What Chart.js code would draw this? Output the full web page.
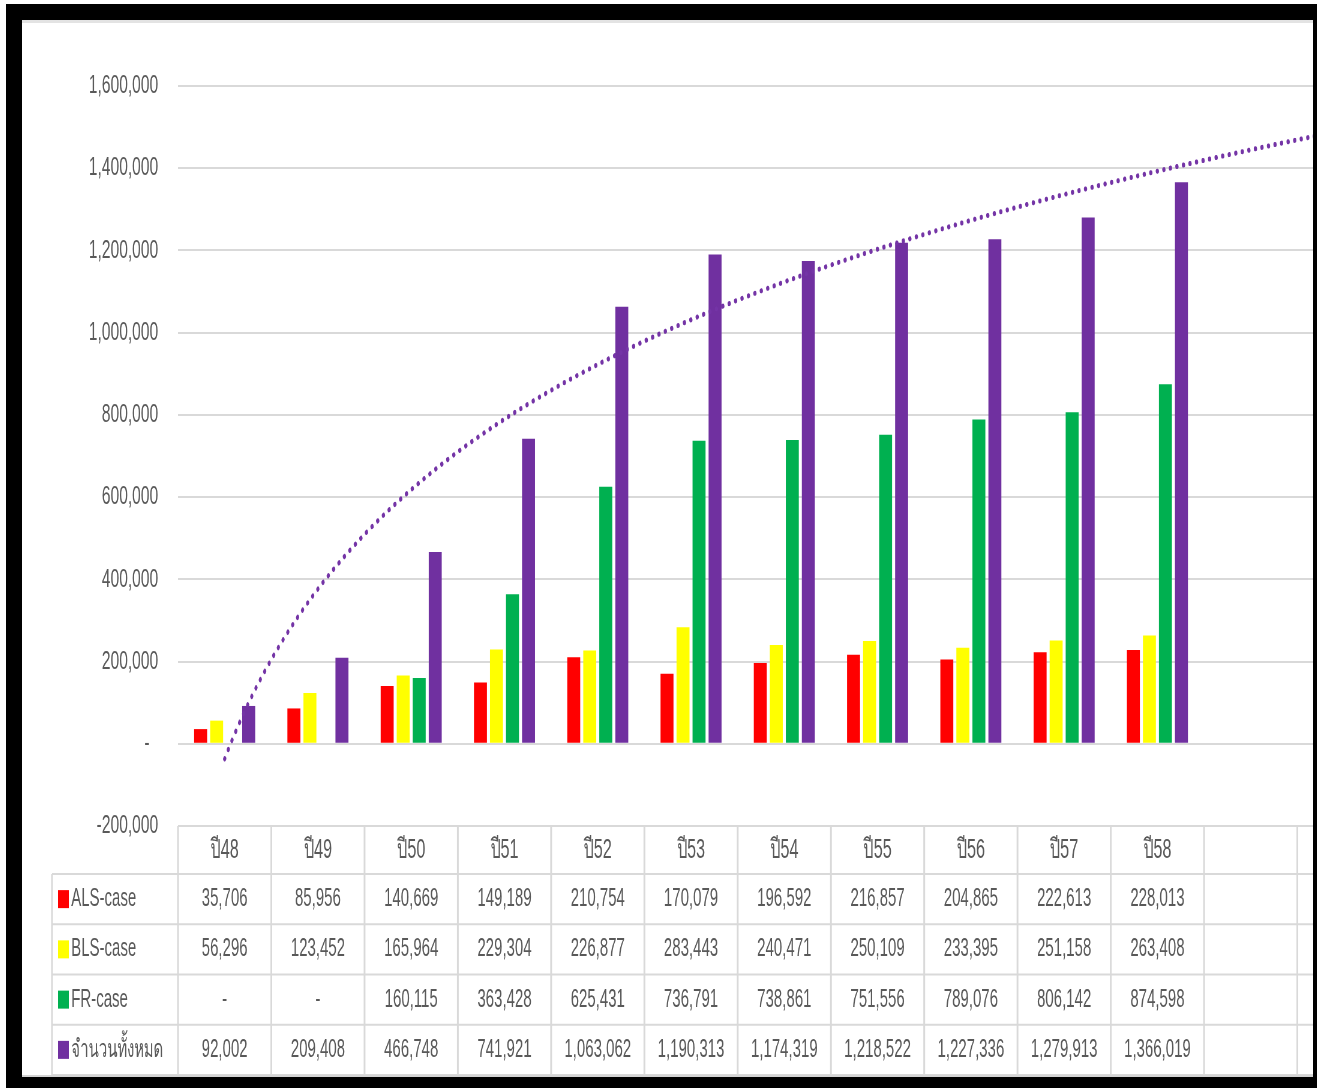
<!DOCTYPE html>
<html>
<head>
<meta charset="utf-8">
<title>EMS cases</title>
<script src="https://cdn.jsdelivr.net/npm/chart.js@4.4.0/dist/chart.umd.min.js"></script>
<style>
  body { margin: 0; background: #fff; }
  #frame { position: absolute; left: 6px; top: 4px; width: 1311px; height: 1084px; background: #000; }
  #sheet { position: absolute; left: 16px; top: 16px; width: 1291px; height: 1057px; background: #fff; overflow: hidden; }
  #topline { position: absolute; left: 0; top: 0; width: 100%; height: 3px; background: #e3e3e3; z-index: 2; }
  #bottomline { position: absolute; left: 0; bottom: 0; width: 100%; height: 2px; background: #d4d4d4; z-index: 2; }
  /* the original picture is squeezed sideways, so the chart is drawn wide and squeezed the same way */
  #chart { position: absolute; left: 0; top: 0; transform: scaleX(0.6); transform-origin: 0 0; }
</style>
</head>
<body>
<div id="frame">
  <div id="sheet">
    <div id="topline"></div>
    <canvas id="chart" width="2281" height="1057"></canvas>
    <div id="bottomline"></div>
  </div>
</div>

<script>
// categories (the last two columns of the sheet are empty)
var categories = ['ปี48', 'ปี49', 'ปี50', 'ปี51', 'ปี52', 'ปี53', 'ปี54', 'ปี55', 'ปี56', 'ปี57', 'ปี58', '', ''];

var series_names = ['ALS-case', 'BLS-case', 'FR-case', 'จำนวนทั้งหมด'];

var als_case = [35706, 85956, 140669, 149189, 210754, 170079, 196592, 216857, 204865, 222613, 228013];
var bls_case = [56296, 123452, 165964, 229304, 226877, 283443, 240471, 250109, 233395, 251158, 263408];
var fr_case = [null, null, 160115, 363428, 625431, 736791, 738861, 751556, 789076, 806142, 874598];
var total_cases = [92002, 209408, 466748, 741921, 1063062, 1190313, 1174319, 1218522, 1227336, 1279913, 1366019];

// y axis ticks
var y_min = -200000;
var y_max = 1600000;
var y_step = 200000;

var series_colors = ['#FF0000', '#FFFF00', '#00B050', '#7030A0'];
var text_color = '#595959';
var line_color = '#d9d9d9';
var font_family = '"Liberation Sans", "Noto Sans", sans-serif';

function formatNumber(value) {
  if (value === null || value === undefined) {
    return '-';
  }
  return value.toLocaleString('en-US');
}

// Excel style logarithmic trendline of the total, drawn dotted
var trendlinePlugin = {
  id: 'trendline',
  afterDatasetsDraw: function(chart) {
    var xs = chart.scales.x;
    var ys = chart.scales.y;
    var n = total_cases.length;
    var sumL = 0, sumY = 0, sumLL = 0, sumLY = 0;
    for (var i = 0; i < n; i++) {
      var l = Math.log(i + 1);
      sumL += l;
      sumY += total_cases[i];
      sumLL += l * l;
      sumLY += l * total_cases[i];
    }
    var a = (n * sumLY - sumL * sumY) / (n * sumLL - sumL * sumL);
    var b = (sumY - a * sumL) / n;

    var ctx = chart.ctx;
    ctx.save();
    ctx.strokeStyle = '#7434a6';
    ctx.lineWidth = 5;
    ctx.lineCap = 'round';
    ctx.setLineDash([0.5, 10.5]);
    ctx.beginPath();
    for (var t = 1; t <= categories.length; t += 0.02) {
      var px = xs.getPixelForValue(t - 1);
      var py = ys.getPixelForValue(a * Math.log(t) + b);
      if (t == 1) {
        ctx.moveTo(px, py);
      } else {
        ctx.lineTo(px, py);
      }
    }
    ctx.stroke();
    ctx.restore();
  }
};

// data table under the plot, columns taken from the x scale
var dataTablePlugin = {
  id: 'dataTable',
  afterDraw: function(chart) {
    var ctx = chart.ctx;
    var area = chart.chartArea;
    var xs = chart.scales.x;
    var colW = (area.right - area.left) / categories.length;
    var top = area.bottom;
    var headerH = 48;
    var rowH = 50.25;
    var legendLeft = 50;
    var right = chart.width;
    var rows = [als_case, bls_case, fr_case, total_cases];

    ctx.save();
    ctx.strokeStyle = line_color;
    ctx.lineWidth = 2;

    // horizontal lines
    ctx.beginPath();
    ctx.moveTo(area.left, top);
    ctx.lineTo(right, top);
    for (var r = 0; r <= rows.length; r++) {
      var ly = top + headerH + r * rowH;
      ctx.moveTo(legendLeft, ly);
      ctx.lineTo(right, ly);
    }
    ctx.stroke();

    // vertical lines
    ctx.lineWidth = 3;
    ctx.beginPath();
    var bottom = top + headerH + rows.length * rowH;
    for (var c = 0; c <= categories.length; c++) {
      var lx = area.left + c * colW;
      ctx.moveTo(lx, top);
      ctx.lineTo(lx, bottom);
    }
    ctx.moveTo(legendLeft, top + headerH);
    ctx.lineTo(legendLeft, bottom);
    ctx.stroke();

    ctx.fillStyle = text_color;
    ctx.textBaseline = 'middle';
    ctx.textAlign = 'center';

    // header row
    ctx.font = '27px ' + font_family;
    for (var h = 0; h < categories.length; h++) {
      ctx.fillText(categories[h], xs.getPixelForValue(h), top + headerH / 2 + 1);
    }

    // series rows
    ctx.font = '25px ' + font_family;
    for (var s = 0; s < rows.length; s++) {
      var cy = top + headerH + s * rowH + rowH / 2;
      ctx.fillStyle = series_colors[s];
      ctx.fillRect(legendLeft + 10, cy - 9, 18, 18);
      ctx.fillStyle = text_color;
      ctx.textAlign = 'left';
      ctx.fillText(series_names[s], legendLeft + 32, cy);
      ctx.textAlign = 'center';
      for (var k = 0; k < rows[s].length; k++) {
        ctx.fillText(formatNumber(rows[s][k]), xs.getPixelForValue(k), cy);
      }
    }
    ctx.restore();
  }
};

var ctx = document.getElementById('chart');
var cases_chart = new Chart(ctx, {
  type: 'bar',
  data: {
    labels: categories,
    datasets: [
      { label: series_names[0], data: als_case, backgroundColor: series_colors[0] },
      { label: series_names[1], data: bls_case, backgroundColor: series_colors[1] },
      { label: series_names[2], data: fr_case, backgroundColor: series_colors[2] },
      { label: series_names[3], data: total_cases, backgroundColor: series_colors[3] }
    ]
  },
  options: {
    responsive: false,
    animation: false,
    layout: {
      padding: { top: 66, bottom: 251, left: 0, right: 0 }
    },
    datasets: {
      bar: { barPercentage: 0.81, categoryPercentage: 0.687 }
    },
    plugins: {
      legend: { display: false },
      tooltip: { enabled: false }
    },
    scales: {
      x: {
        display: false
      },
      y: {
        min: y_min,
        max: y_max,
        afterFit: function(scale) { scale.width = 260; },
        border: { display: false },
        grid: { color: line_color, lineWidth: 2, drawTicks: false },
        ticks: {
          stepSize: y_step,
          padding: 33,
          color: text_color,
          font: { family: font_family, size: 26 },
          callback: function(value) {
            if (value == 0) {
              return '-  ';
            }
            return formatNumber(value);
          }
        }
      }
    }
  },
  plugins: [trendlinePlugin, dataTablePlugin]
});
</script>
</body>
</html>
